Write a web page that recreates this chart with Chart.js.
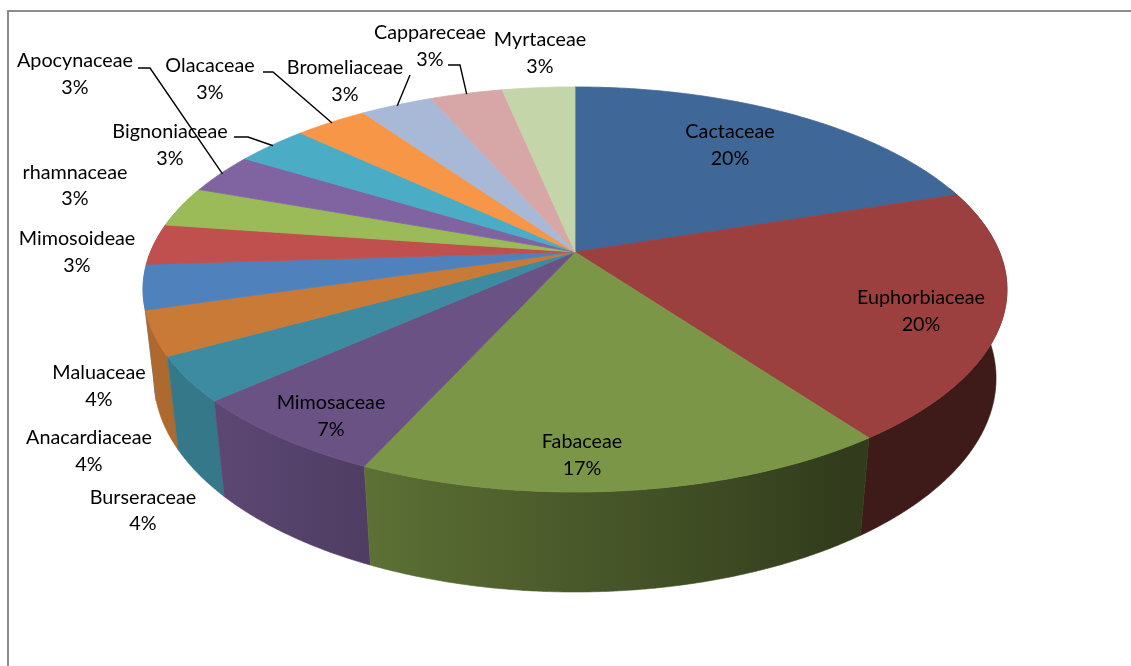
<!DOCTYPE html>
<html><head><meta charset="utf-8">
<script src="https://cdn.jsdelivr.net/npm/chart.js@4.4.1/dist/chart.umd.min.js"></script>
<style>
html,body{margin:0;padding:0;background:#fff;overflow:hidden}
#wrap{position:relative;width:1131px;height:666px;overflow:hidden}
#frame{position:absolute;left:7px;top:10px;width:1300px;height:900px;border-top:2px solid #8c8c8c;border-left:2px solid #8c8c8c}
canvas{position:absolute;left:0;top:0}
</style></head><body>
<div id="wrap"><div id="frame"></div><canvas id="c" width="1131" height="666"></canvas></div>
<script>
// ---- data ----
const categories = ['Cactaceae','Euphorbiaceae','Fabaceae','Mimosaceae','Burseraceae','Anacardiaceae','Maluaceae','Mimosoideae','rhamnaceae','Apocynaceae','Bignoniaceae','Olacaceae','Bromeliaceae','Cappareceae','Myrtaceae'];
const shares = [20, 20, 16.8, 6.6, 3.55, 3.55, 3.55, 3.25, 3.25, 3.25, 3.25, 3.25, 3.25, 3.25, 3.25];
const sliceColors = ['#3F6797','#9B403E','#7C9647','#6A5285','#3C8BA0','#C97A36','#4F81BD','#C0504D','#9BBB59','#8064A2','#4BACC6','#F79646','#A8B9D7','#D7A7A7','#C5D5AA'];

// ---- layout (label placement, not data) ----
const labelLayout = [
  {x:730, y:132, dy:27},
  {x:921, y:298, dy:27},
  {x:582, y:442, dy:27},
  {x:331, y:403, dy:27},
  {x:143, y:498, dy:26},
  {x:89,  y:438, dy:27},
  {x:99,  y:373, dy:27},
  {x:77,  y:239, dy:27},
  {x:75,  y:173, dy:26},
  {x:75,  y:61,  dy:27, lead:[[138,68],[150,68]]},
  {x:170, y:132, dy:27, lead:[[234,137],[248,137]]},
  {x:210, y:66,  dy:27, lead:[[263,72],[273,72]]},
  {x:345, y:68,  dy:27, lead:[[410,75]]},
  {x:430, y:33,  dy:27, lead:[[448,65],[460,65]]},
  {x:540, y:40,  dy:27}
];
const view = {cx:575, cy:252, A:424.5, B:195.6, k:0.185, m:0.025, H:90};

function proj(theta, r, h){
  const u = r*Math.cos(theta), v = r*Math.sin(theta);
  const w = 1 - view.k*v + view.m*h;
  return [view.cx + view.A*u/w, view.cy + (view.B*v + view.H*h)/w];
}
function shade(hex, f){
  const n = parseInt(hex.slice(1),16);
  const r = Math.round(((n>>16)&255)*f), g = Math.round(((n>>8)&255)*f), b = Math.round((n&255)*f);
  return `rgb(${r},${g},${b})`;
}
const clamp=(x,a,b)=>Math.max(a,Math.min(b,x));
const lightF = th => clamp(0.595-0.367*Math.cos(th), 0.40, 0.86);

function wallGradient(ctx, color){
  const thR = Math.asin(view.k), thL = Math.PI - Math.asin(view.k);
  const mx = th => (proj(th,1,0)[0]+proj(th,1,1)[0])/2;
  const xL = mx(thL), xR = mx(thR);
  const g = ctx.createLinearGradient(xL,0,xR,0);
  const N = 48;
  let last = -1;
  for (let j=0;j<=N;j++){
    const th = thL - (thL-thR)*j/N;
    let off = clamp((mx(th)-xL)/(xR-xL),0,1);
    if (off <= last) off = Math.min(1,last+1e-4);
    last = off;
    g.addColorStop(off, shade(color, lightF(th)));
  }
  return g;
}

const pie3d = {
  id:'pie3d',
  beforeDatasetsDraw(){ return false; },
  afterDraw(chart){
    const ctx = chart.ctx;
    const arcs = chart.getDatasetMeta(0).data;
    const data = chart.data.datasets[0].data;
    const total = data.reduce((a,b)=>a+b,0);
    const deg = Math.PI/180;
    ctx.save();
    // side walls (front part only), back-to-front
    const walls = [];
    arcs.forEach((arc)=>{
      const {startAngle, endAngle} = arc.getProps(['startAngle','endAngle'], true);
      const a0 = Math.max(startAngle, -20*deg), a1 = Math.min(endAngle, 200*deg);
      if (a1 > a0) walls.push({a0, a1, color:arc.options.backgroundColor});
    });
    walls.sort((p,q)=>Math.sin((p.a0+p.a1)/2)-Math.sin((q.a0+q.a1)/2));
    for (const w of walls){
      const n = Math.max(2, Math.ceil((w.a1-w.a0)/(0.5*deg)));
      ctx.beginPath();
      for (let j=0;j<=n;j++){ const p=proj(w.a0+(w.a1-w.a0)*j/n,1,0); j?ctx.lineTo(p[0],p[1]):ctx.moveTo(p[0],p[1]); }
      for (let j=n;j>=0;j--){ const p=proj(w.a0+(w.a1-w.a0)*j/n,1,1); ctx.lineTo(p[0],p[1]); }
      ctx.closePath();
      const g = wallGradient(ctx, w.color);
      ctx.fillStyle=g; ctx.strokeStyle=g; ctx.lineWidth=0.6; ctx.lineJoin='round';
      ctx.fill(); ctx.stroke();
    }
    // top faces
    arcs.forEach((arc)=>{
      const {startAngle, endAngle} = arc.getProps(['startAngle','endAngle'], true);
      const c = arc.options.backgroundColor;
      const n = Math.max(2, Math.ceil((endAngle-startAngle)/(0.5*deg)));
      ctx.beginPath();
      const a = proj(0,0,0); ctx.moveTo(a[0],a[1]);
      for (let j=0;j<=n;j++){ const p=proj(startAngle+(endAngle-startAngle)*j/n,1,0); ctx.lineTo(p[0],p[1]); }
      ctx.closePath();
      ctx.fillStyle=c; ctx.strokeStyle=c; ctx.lineWidth=0.8; ctx.lineJoin='round';
      ctx.fill(); ctx.stroke();
    });
    // labels
    ctx.font = '20px Lato';
    const fs = 20*128/ctx.measureText('Euphorbiaceae').width;
    ctx.font = fs.toFixed(2)+'px Lato';
    ctx.fillStyle='#000'; ctx.textAlign='center'; ctx.textBaseline='middle';
    arcs.forEach((arc,i)=>{
      const L = labelLayout[i];
      const {startAngle, endAngle} = arc.getProps(['startAngle','endAngle'], true);
      const pct = Math.round(data[i]/total*100)+'%';
      ctx.fillText(chart.data.labels[i], L.x, L.y);
      ctx.fillText(pct, L.x, L.y+L.dy);
      if (L.lead){
        const end = proj((startAngle+endAngle)/2, 0.995, 0);
        ctx.beginPath();
        ctx.moveTo(L.lead[0][0], L.lead[0][1]);
        for (let j=1;j<L.lead.length;j++) ctx.lineTo(L.lead[j][0], L.lead[j][1]);
        ctx.lineTo(end[0], end[1]);
        ctx.strokeStyle='#000'; ctx.lineWidth=1.4; ctx.lineJoin='miter';
        ctx.stroke();
      }
    });
    ctx.restore();
  }
};

new Chart(document.getElementById('c'), {
  type:'pie',
  data:{ labels: categories, datasets:[{ data: shares, backgroundColor: sliceColors, borderWidth:0 }] },
  options:{
    responsive:false, animation:false, events:[],
    layout:{padding:0},
    plugins:{ legend:{display:false}, tooltip:{enabled:false} }
  },
  plugins:[pie3d]
});
</script>
</body></html>
